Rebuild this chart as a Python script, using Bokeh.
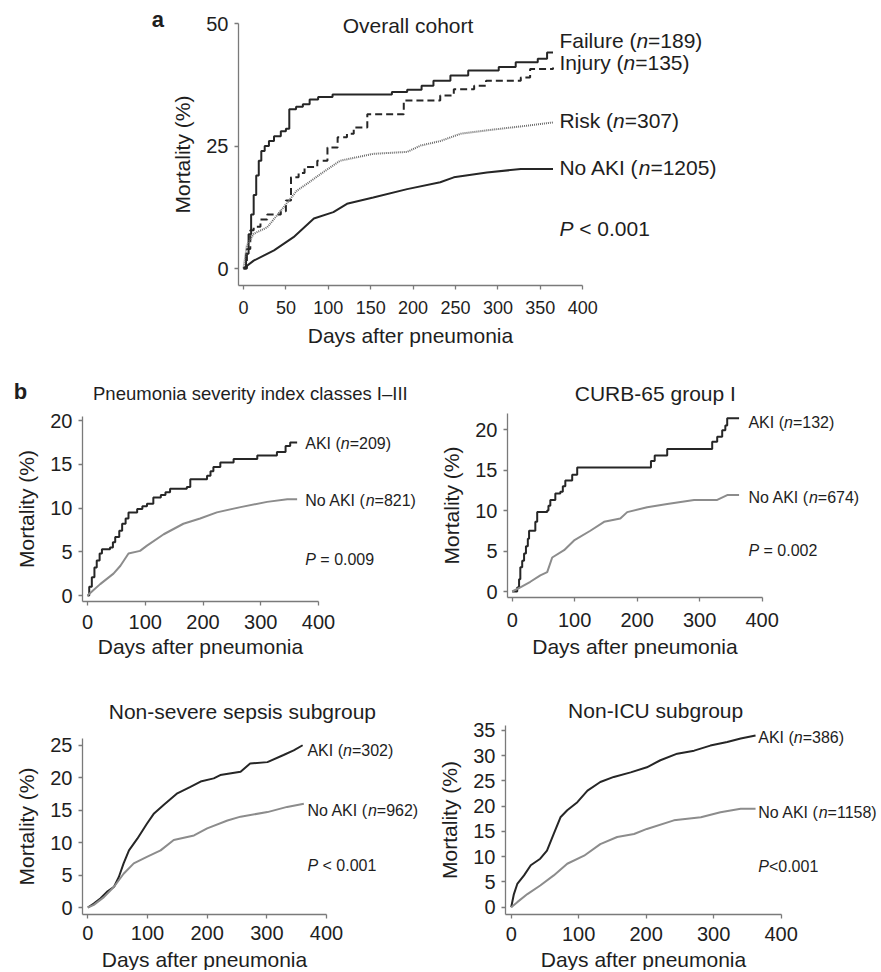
from bokeh.plotting import figure
from bokeh.models import Label, Range1d
from bokeh.layouts import column, row
from bokeh.embed import file_html
from bokeh.resources import INLINE

# ---------------- data (days after pneumonia, mortality %) ----------------
a_fail_days = [0, 3, 6, 9, 12, 15, 18, 21, 25, 30, 36, 44, 50, 54, 62, 70, 78, 88, 105, 175, 193, 210, 224, 244, 265, 301, 321, 347, 358, 365]
a_fail_mort = [0, 3, 7, 11, 15, 19, 22, 24, 25, 26, 27, 28, 28.5, 32.5, 33, 33.5, 34.5, 35, 35.5, 36, 36.5, 37.3, 38.3, 39.4, 40.4, 41.1, 42.1, 42.8, 44.1, 44.1]
a_inj_days = [0, 4, 8, 12, 20, 28, 44, 50, 56, 65, 72, 87, 99, 111, 122, 130, 146, 189, 232, 248, 272, 286, 327, 338, 365]
a_inj_mort = [0, 4, 7.8, 8.5, 10, 11, 11.7, 13.9, 18.6, 19.5, 20.7, 22, 24.7, 26.8, 27.5, 28.8, 31.5, 34.3, 35.3, 36.6, 37.3, 38.3, 39.0, 40.7, 41]
a_risk_days = [0, 4, 12, 28, 44, 63, 75, 91, 114, 153, 193, 209, 232, 256, 287, 327, 365]
a_risk_mort = [0, 4.7, 7.1, 8.4, 11.8, 15.9, 17.3, 19.3, 22, 23.4, 23.8, 25.1, 26, 27.5, 28.2, 29, 29.8]
a_noaki_days = [0, 12, 36, 59, 83, 106, 122, 153, 193, 232, 248, 287, 327, 365]
a_noaki_mort = [0, 1.6, 3.7, 6.4, 10.2, 11.5, 13.2, 14.5, 16.2, 17.6, 18.6, 19.6, 20.3, 20.3]

psi_aki_days = [0, 3, 7.5, 12, 16, 21, 25, 39, 44, 48, 55, 60, 66, 71, 86, 95, 103, 114, 127, 135, 143, 172, 178, 207, 213, 218, 230, 253, 294, 328, 343, 351, 363]
psi_aki_mort = [0, 1, 2.1, 3.2, 4.0, 4.8, 5.3, 5.5, 6.1, 6.7, 7.4, 8.2, 8.8, 9.5, 9.9, 10.2, 10.5, 11.2, 11.5, 11.8, 12.2, 12.4, 13.3, 13.7, 14.2, 14.7, 15.2, 15.6, 16.0, 16.4, 17.1, 17.5, 17.5]
psi_no_days = [0, 10, 22, 45, 57, 71, 91, 103, 132, 166, 195, 224, 265, 311, 346, 363]
psi_no_mort = [0, 0.6, 1.3, 2.5, 3.4, 4.8, 5.1, 5.7, 7.0, 8.2, 8.8, 9.5, 10.1, 10.7, 11.0, 11.0]

curb_aki_days = [0, 8, 11, 13, 16, 19, 22, 25, 27, 37, 40, 56, 58, 61, 69, 77, 81, 85, 96, 104, 222, 228, 248, 320, 328, 336, 341, 344, 363]
curb_aki_mort = [0, 0.5, 1.5, 3.0, 3.8, 4.7, 5.6, 6.5, 7.5, 8.6, 9.8, 10.0, 10.6, 11.3, 12.1, 12.3, 13.0, 13.7, 14.4, 15.3, 16.1, 16.8, 17.6, 18.5, 19.1, 19.9, 20.5, 21.4, 21.4]
curb_no_days = [0, 13, 29, 45, 56, 64, 83, 99, 125, 147, 173, 184, 216, 248, 291, 328, 344, 363]
curb_no_mort = [0, 0.5, 1.2, 2.0, 2.4, 4.2, 5.1, 6.3, 7.5, 8.6, 9.0, 9.8, 10.4, 10.8, 11.3, 11.3, 11.9, 11.9]

sep_aki_days = [0, 10, 21, 32, 44, 52, 60, 69, 83, 99, 111, 127, 150, 172, 189, 211, 222, 256, 272, 301, 328, 345, 360]
sep_aki_mort = [0, 0.6, 1.4, 2.4, 3.2, 4.7, 6.8, 8.8, 10.6, 12.9, 14.5, 15.8, 17.6, 18.6, 19.4, 19.9, 20.4, 20.9, 22.2, 22.4, 23.5, 24.2, 25.0]
sep_no_days = [0, 10, 27, 44, 60, 77, 99, 122, 144, 178, 200, 234, 256, 301, 334, 362]
sep_no_mort = [0, 0.4, 1.6, 3.2, 5.2, 6.8, 7.8, 8.8, 10.4, 11.1, 12.2, 13.4, 14.0, 14.7, 15.5, 16.0]

icu_aki_days = [0, 4, 9, 19, 29, 43, 53, 63, 73, 83, 98, 113, 132, 152, 177, 201, 221, 246, 271, 295, 320, 340, 362]
icu_aki_mort = [0, 2.6, 4.6, 6.3, 8.3, 9.6, 11.2, 14.5, 17.8, 19.2, 20.8, 23.1, 24.8, 25.8, 26.7, 27.7, 29.1, 30.4, 31.0, 32.0, 32.7, 33.4, 34.0]
icu_no_days = [0, 9, 24, 43, 63, 83, 108, 132, 157, 182, 201, 241, 281, 310, 340, 362]
icu_no_mort = [0, 1.0, 2.6, 4.3, 6.3, 8.6, 10.2, 12.5, 13.9, 14.5, 15.5, 17.2, 17.8, 18.8, 19.5, 19.5]

a_ticks_x = [0, 50, 100, 150, 200, 250, 300, 350, 400]
a_ticks_y = [0, 25, 50]
b_ticks_x = [0, 100, 200, 300, 400]

FONT = "Liberation Sans"
DARK = "#262626"
GRAY = "#8c8c8c"
AXIS = "#7a7a7a"
TXT = "#1e1e1e"

# Arial / Liberation Sans advance widths (per 1000 em)
W = {" ": 278, "(": 333, ")": 333, "=": 584, "<": 584, ".": 278, "A": 667, "K": 667, "I": 278,
     "N": 722, "o": 556, "F": 611, "a": 556, "i": 222, "l": 222, "u": 556, "r": 333, "e": 556,
     "n": 556, "j": 222, "y": 500, "R": 722, "s": 500, "k": 500, "P": 667}


def tw(s, size):
    return sum(W.get(c, 556) for c in s) / 1000.0 * size


def rich(p, x, y, parts, size):
    off = 0.0
    for txt, style in parts:
        lead = len(txt) - len(txt.lstrip(" "))
        off += tw(" " * lead, size)
        body = txt.lstrip(" ")
        p.add_layout(Label(x=x, y=y, x_offset=off, text=body, text_font=FONT,
                           text_font_size=f"{size}px", text_font_style=style,
                           text_baseline="middle", text_align="left", text_color=TXT))
        off += tw(body, size)


def text(p, x, y, s, size, style="normal", align="center"):
    p.add_layout(Label(x=x, y=y, text=s, text_font=FONT, text_font_size=f"{size}px",
                       text_font_style=style, text_baseline="middle", text_align=align,
                       text_color=TXT))


def make_panel(ox, oy, w, h, x0, sx, y0, sy, yax_px, xax_px, ytop_px, xticks, yticks,
               xtick_size, ytick_size, xstand, xlabstand):
    """Figure whose frame fills the whole canvas; axes sit at fixed data locations."""
    xr = ((ox - x0) / sx, (ox + w - x0) / sx)
    yr = ((y0 - (oy + h)) / sy, (y0 - oy) / sy)
    p = figure(width=w, height=h, x_range=Range1d(*xr), y_range=Range1d(*yr),
               output_backend="svg", toolbar_location=None, title=None, min_border=0)
    p.grid.visible = False
    p.outline_line_color = None
    yax_x = (yax_px - x0) / sx
    xax_y = (y0 - xax_px) / sy
    ytop = (y0 - ytop_px) / sy
    p.yaxis.fixed_location = yax_x
    p.xaxis.fixed_location = xax_y
    p.xaxis.bounds = (yax_x, xticks[-1])
    p.yaxis.bounds = (xax_y, ytop)
    p.xaxis.ticker = xticks
    p.yaxis.ticker = yticks
    for ax in (p.xaxis[0], p.yaxis[0]):
        ax.axis_line_color = AXIS
        ax.axis_line_width = 1.3
        ax.major_tick_line_color = AXIS
        ax.major_tick_line_width = 1.3
        ax.major_tick_out = 4
        ax.major_tick_in = 0
        ax.minor_tick_line_color = None
        ax.major_label_text_font = FONT
        ax.major_label_text_color = TXT
        ax.axis_label_text_font = FONT
        ax.axis_label_text_font_style = "normal"
        ax.axis_label_text_color = TXT
        ax.axis_label_text_font_size = "21px"
    p.xaxis.major_label_text_font_size = f"{xtick_size}px"
    p.yaxis.major_label_text_font_size = f"{ytick_size}px"
    p.xaxis.axis_label = "Days after pneumonia"
    p.yaxis.axis_label = "Mortality (%)"
    p.xaxis.major_label_standoff = xstand
    p.yaxis.major_label_standoff = 6
    p.xaxis.axis_label_standoff = xlabstand
    p.yaxis.axis_label_standoff = 9
    return p


SPLIT = 428  # horizontal split between left and right sub-panels

# ---------------- panel a ----------------
pa = make_panel(0, 0, 881, 360, 243, 0.848, 268, 4.9, 238, 285, 23,
                a_ticks_x, a_ticks_y, 18, 20, 11, 7)
pa.step(a_fail_days, a_fail_mort, mode="after", line_color=DARK, line_width=2)
pa.step(a_inj_days, a_inj_mort, mode="after", line_color=DARK, line_width=2, line_dash="7 4")
pa.line(a_risk_days, a_risk_mort, line_color="#6a6a6a", line_width=2, line_dash="1 1")
pa.line(a_noaki_days, a_noaki_mort, line_color=DARK, line_width=2)
text(pa, 194, 49.6, "Overall cohort", 21)
text(pa, -101, 50.8, "a", 22, "bold")
LA = 372.5
rich(pa, LA, 46.5, [("Failure (", "normal"), ("n", "italic"), ("=189)", "normal")], 21)
rich(pa, LA, 42.0, [("Injury (", "normal"), ("n", "italic"), ("=135)", "normal")], 21)
rich(pa, LA, 30.2, [("Risk (", "normal"), ("n", "italic"), ("=307)", "normal")], 21)
rich(pa, LA, 20.6, [("No AKI (", "normal"), ("n", "italic"), ("=1205)", "normal")], 21)
rich(pa, LA, 8.2, [("P", "italic"), (" < 0.001", "normal")], 21)

# ---------------- panel b1 : PSI I-III ----------------
p1 = make_panel(0, 360, SPLIT, 305, 87, 0.5775, 595, 8.75, 82, 601, 415.6,
                b_ticks_x, [0, 5, 10, 15, 20], 20, 20, 9, 3)
p1.step(psi_aki_days, psi_aki_mort, mode="after", line_color=DARK, line_width=2)
p1.line(psi_no_days, psi_no_mort, line_color=GRAY, line_width=2)
text(p1, 282, 23.1, "Pneumonia severity index classes I\u2013III", 18.5)
text(p1, -116, 23.3, "b", 22, "bold")
rich(p1, 377, 17.4, [("AKI (", "normal"), ("n", "italic"), ("=209)", "normal")], 16)
rich(p1, 377, 10.9, [("No AKI (", "normal"), ("n", "italic"), ("=821)", "normal")], 16)
rich(p1, 377, 4.1, [("P", "italic"), (" = 0.009", "normal")], 16)

# ---------------- panel b2 : CURB-65 group I ----------------
p2 = make_panel(SPLIT, 360, 881 - SPLIT, 305, 511.7, 0.625, 591, 8.1, 507, 597, 413.3,
                b_ticks_x, [0, 5, 10, 15, 20], 20, 20, 11, 5)
p2.step(curb_aki_days, curb_aki_mort, mode="after", line_color=DARK, line_width=2)
p2.line(curb_no_days, curb_no_mort, line_color=GRAY, line_width=2)
text(p2, 229, 24.4, "CURB-65 group I", 21)
rich(p2, 378, 20.9, [("AKI (", "normal"), ("n", "italic"), ("=132)", "normal")], 16)
rich(p2, 378, 11.6, [("No AKI (", "normal"), ("n", "italic"), ("=674)", "normal")], 16)
rich(p2, 378, 5.1, [("P", "italic"), (" = 0.002", "normal")], 16)

# ---------------- panel b3 : non-severe sepsis ----------------
p3 = make_panel(0, 665, SPLIT, 305, 87.3, 0.5968, 907, 6.49, 82, 913.5, 738,
                b_ticks_x, [0, 5, 10, 15, 20, 25], 20, 20, 8, 4)
p3.line(sep_aki_days, sep_aki_mort, line_color=DARK, line_width=2)
p3.line(sep_no_days, sep_no_mort, line_color=GRAY, line_width=2)
text(p3, 259, 30.2, "Non-severe sepsis subgroup", 21)
rich(p3, 368, 24.2, [("AKI (", "normal"), ("n", "italic"), ("=302)", "normal")], 16)
rich(p3, 368, 14.9, [("No AKI (", "normal"), ("n", "italic"), ("=962)", "normal")], 16)
rich(p3, 368, 6.5, [("P", "italic"), (" < 0.001", "normal")], 16)

# ---------------- panel b4 : non-ICU ----------------
p4 = make_panel(SPLIT, 665, 881 - SPLIT, 305, 510.7, 0.675, 906.7, 5.05, 505, 914, 725,
                b_ticks_x, [0, 5, 10, 15, 20, 25, 30, 35], 20, 20, 8, 4)
p4.line(icu_aki_days, icu_aki_mort, line_color=DARK, line_width=2)
p4.line(icu_no_days, icu_no_mort, line_color=GRAY, line_width=2)
text(p4, 214, 38.9, "Non-ICU subgroup", 21)
rich(p4, 366, 33.6, [("AKI (", "normal"), ("n", "italic"), ("=386)", "normal")], 16)
rich(p4, 366, 18.8, [("No AKI (", "normal"), ("n", "italic"), ("=1158)", "normal")], 16)
rich(p4, 366, 8.1, [("P", "italic"), ("<0.001", "normal")], 16)

layout = column(pa, row(p1, p2), row(p3, p4))
open("out.html", "w").write(file_html(layout, INLINE))
